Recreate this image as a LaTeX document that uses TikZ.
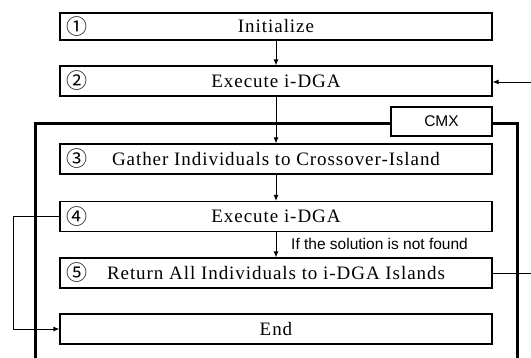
\documentclass[tikz,border=0pt]{standalone}
\usepackage{fontspec}
\setmainfont{Liberation Serif}[LetterSpace=5]
\newfontfamily\lblfont{Liberation Sans}
\newfontfamily\circfont{Noto Sans CJK JP}
\usetikzlibrary{arrows.meta}
\tikzset{
  stepbox/.style={draw, line width=1.2pt, minimum width=432pt, minimum height=30pt,
    inner sep=0pt, font=\fontsize{19}{19}\selectfont},
  numlbl/.style={inner sep=0pt, font=\circfont\fontsize{21}{21}\selectfont},
  conn/.style={line width=0.9pt},
  arr/.style={conn, -{Latex[length=6pt,width=5pt]}},
  frame/.style={line width=3pt},
  note/.style={inner sep=0pt, font=\lblfont\fontsize{15.5}{15.5}\selectfont}
}
\begin{document}
\begin{tikzpicture}[x=1pt,y=-1pt]
\useasboundingbox (0,0) rectangle (531,358);

% step boxes
\node[stepbox, minimum height=27pt] (b1) at (276,26.5) {Initialize};
\node[stepbox] (b2) at (276,81) {Execute i-DGA};
\node[stepbox] (b3) at (276,159) {Gather Individuals to Crossover-Island};
\node[stepbox] (b4) at (276,216.5) {Execute i-DGA};
\node[stepbox] (b5) at (276,273) {Return All Individuals to i-DGA Islands};
\node[stepbox] (b6) at (276,329) {End};

% step numbers
\node[numlbl] (n1) at (77,27) {①};
\node[numlbl] (n2) at (77,81) {②};
\node[numlbl] (n3) at (77,159) {③};
\node[numlbl] (n4) at (77,216.5) {④};
\node[numlbl] (n5) at (77,273) {⑤};

% CMX block outline
\node[draw, line width=1.2pt, minimum width=101pt, minimum height=29pt, inner sep=0pt,
  font=\lblfont\fontsize{15.5}{15.5}\selectfont] (cmx) at (441.5,121.5) {CMX};
\coordinate (fl) at (35,362);
\coordinate (fr) at (517,362);
\draw[frame] (fl) -- (35,123.5) -- (cmx.west |- 0,123.5);
\draw[frame] (cmx.east |- 0,123.5) -- (517,123.5) -- (fr);

% main flow
\draw[arr] (b1) -- (b2);
\draw[arr] (b2) -- (b3);
\draw[arr] (b3) -- (b4);
\draw[arr] (b4) -- (b5);
\node[note, anchor=west] (cond) at (291,243.5) {If the solution is not found};

% exit to End
\coordinate (lp) at (13,216.5);
\draw[arr] (b4.west) -- (lp) |- (b6.west);

% return path on the right
\coordinate (r5) at (531,273);
\coordinate (r2) at (531,82);
\draw[conn] (b5.east) -- (r5);
\draw[arr] (r2) -- (b2.east |- r2);
\end{tikzpicture}
\end{document}
